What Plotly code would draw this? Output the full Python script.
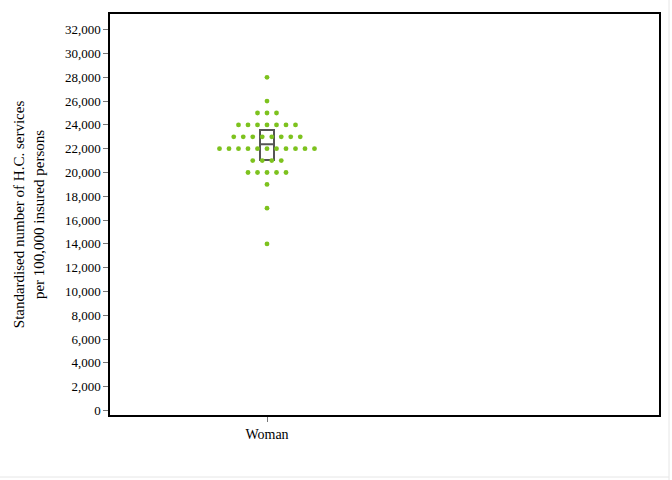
import plotly.graph_objects as go
from collections import Counter

# ---- data ----
category = "Woman"
values = [28000, 26000,
          25000, 25000, 25000,
          24000, 24000, 24000, 24000, 24000, 24000, 24000,
          23000, 23000, 23000, 23000, 23000, 23000, 23000, 23000,
          22000, 22000, 22000, 22000, 22000, 22000, 22000, 22000, 22000, 22000, 22000,
          21000, 21000, 21000, 21000,
          20000, 20000, 20000, 20000, 20000,
          19000, 17000, 14000]
box_q1 = 21050
box_median = 22380
box_q3 = 23580
y_ticks = list(range(0, 32001, 2000))
y_title = "Standardised number of H.C. services<br>per 100,000 insured persons"

# ---- dot-plot offsets (layout only) ----
spacing = 9.5
counts = Counter(values)
xs, ys = [], []
for v in sorted(counts, reverse=True):
    n = counts[v]
    for i in range(n):
        xs.append((i - (n - 1) / 2) * spacing)
        ys.append(v)

fig = go.Figure()
fig.add_trace(go.Scatter(
    x=xs, y=ys, mode="markers",
    marker=dict(color="#7dc21e", size=4.8, line=dict(width=0)),
    hoverinfo="y", showlegend=False))
fig.add_trace(go.Box(
    x=[0], q1=[box_q1], median=[box_median], q3=[box_q3],
    lowerfence=[box_q1], upperfence=[box_q3],
    width=14, line=dict(color="#555555", width=2),
    fillcolor="rgba(0,0,0,0)", boxpoints=False, showlegend=False,
    whiskerwidth=0))

font = "Liberation Serif, Times New Roman, serif"
fig.update_layout(
    width=672, height=480,
    margin=dict(l=110, r=13, t=14, b=65),
    paper_bgcolor="white", plot_bgcolor="white",
    font=dict(family=font, size=13, color="black"),
    xaxis=dict(range=[-157, 392], tickmode="array", tickvals=[0],
               ticktext=[category], showgrid=False, zeroline=False,
               ticks="outside", ticklen=5, tickcolor="#777777",
               showline=True, linecolor="black", linewidth=1.5, mirror=True,
               automargin=False,
               tickfont=dict(family=font, size=14)),
    yaxis=dict(range=[-380, 33320], tickmode="array", tickvals=y_ticks,
               ticktext=[f"{t:,}" for t in y_ticks], showgrid=False,
               zeroline=False, ticks="outside", ticklen=5, tickcolor="#777777",
               showline=True, linecolor="black", linewidth=1.5, mirror=True,
               automargin=False,
               tickfont=dict(family=font, size=13),
               title=dict(text=y_title, font=dict(family=font, size=15), standoff=17)),
    shapes=[
        dict(type="line", xref="paper", yref="paper",
             x0=(669 - 110) / 549, x1=(669 - 110) / 549, y0=-65 / 401, y1=1 + 14 / 401,
             line=dict(color="#e6e6e6", width=1)),
        dict(type="line", xref="paper", yref="paper",
             x0=-110 / 549, x1=(669 - 110) / 549, y0=-(477 - 415) / 401, y1=-(477 - 415) / 401,
             line=dict(color="#e6e6e6", width=1)),
    ],
)
fig.write_html("out.html", config={"displayModeBar": False},
               post_script="document.body.style.margin='0';document.body.style.overflow='hidden';")
